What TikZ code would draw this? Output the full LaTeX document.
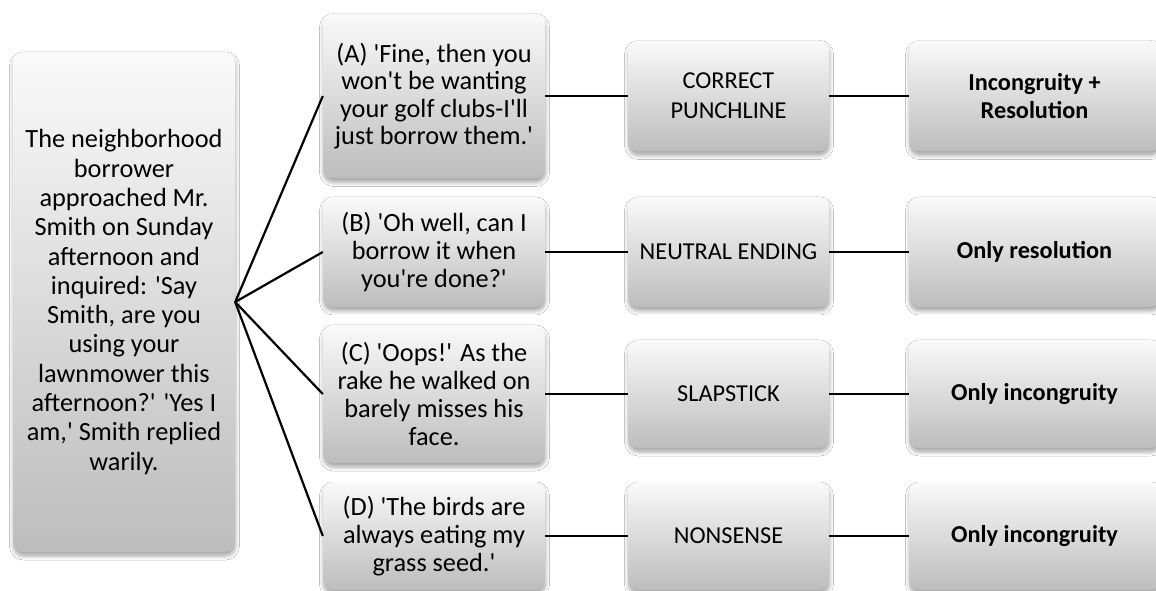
\documentclass[tikz,border=0pt]{standalone}
\usepackage{fontspec}
\setmainfont{Carlito}
\usetikzlibrary{shadows.blur}
\newcommand\sq{\textquotesingle}
\begin{document}
\begin{tikzpicture}[x=1pt,y=1pt,
  card/.style={rectangle, rounded corners=10pt, draw=none,
    top color=black!2, bottom color=black!26,
    blur shadow={shadow xshift=0.5pt, shadow yshift=-4pt,
      shadow blur radius=4pt, shadow blur steps=6, shadow opacity=35},
    align=center, inner sep=4pt},
  big/.style={font=\fontsize{26.3}{#1}\selectfont},
  small/.style={font=\fontsize{24.3}{#1}\selectfont},
  link/.style={line width=2.2pt, black}]
\useasboundingbox (0,0) rectangle (1156,590);
\fill[white] (0,0) rectangle (1156,590);

% setup of the joke
\node[card, big=29.3, minimum width=222pt, minimum height=500pt] (setup) at (124,288)
  {The neighborhood\\ borrower\\ approached Mr.\\ Smith on Sunday\\ afternoon and\\ inquired: \sq Say\\ Smith, are you\\ using your\\ lawnmower this\\ afternoon?\sq{} \sq Yes I\\ am,\sq{} Smith replied\\ warily.};

% the four endings
\node[card, big=27.3, minimum width=222pt, minimum height=165pt] (endA) at (434,494)
  {(A) \sq Fine, then you\\ won\sq t be wanting\\ your golf clubs-I\sq ll\\ just borrow them.\sq};
\node[card, big=28.3, minimum width=222pt, minimum height=110pt] (endB) at (434,338)
  {(B) \sq Oh well, can I\\ borrow it when\\ you\sq re done?\sq};
\node[card, big=28.3, minimum width=222pt, minimum height=138pt] (endC) at (434,196)
  {(C) \sq Oops!\sq{} As the\\ rake he walked on\\ barely misses his\\ face.};
\node[card, big=28.3, minimum width=222pt, minimum height=108pt] (endD) at (434,54)
  {(D) \sq The birds are\\ always eating my\\ grass seed.\sq};

% ending types
\node[card, small=30, minimum width=201pt, minimum height=111pt] (typeA) at (728.5,494) {CORRECT\\ PUNCHLINE};
\node[card, small=30, minimum width=201pt, minimum height=110pt] (typeB) at (728.5,338) {NEUTRAL ENDING};
\node[card, small=30, minimum width=201pt, minimum height=108pt] (typeC) at (728.5,196) {SLAPSTICK};
\node[card, small=30, minimum width=201pt, minimum height=108pt] (typeD) at (728.5,54) {NONSENSE};

% humour components
\node[card, small=28, minimum width=251pt, minimum height=111pt] (resA) at (1034.5,494) {\textbf{Incongruity +}\\ \textbf{Resolution}};
\node[card, small=28, minimum width=251pt, minimum height=110pt] (resB) at (1034.5,338) {\textbf{Only resolution}};
\node[card, small=28, minimum width=251pt, minimum height=108pt] (resC) at (1034.5,196) {\textbf{Only incongruity}};
\node[card, small=28, minimum width=251pt, minimum height=108pt] (resD) at (1034.5,54) {\textbf{Only incongruity}};

% connectors
\foreach \r in {A,B,C,D} {
  \draw[link] (setup.east) -- (end\r.west);
  \draw[link] (end\r.east) -- (type\r.west);
  \draw[link] (type\r.east) -- (res\r.west);
}
\end{tikzpicture}
\end{document}
